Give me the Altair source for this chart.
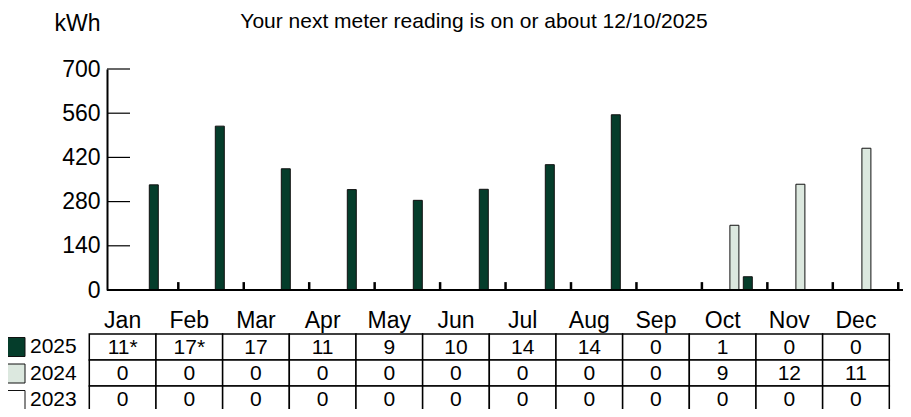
import altair as alt
import pandas as pd

months = ["Jan", "Feb", "Mar", "Apr", "May", "Jun", "Jul", "Aug", "Sep", "Oct", "Nov", "Dec"]
years = ["2025", "2024", "2023"]
kwh_2025 = [333, 519, 384, 318, 284, 319, 397, 555, 0, 42, 0, 0]
kwh_2024 = [0, 0, 0, 0, 0, 0, 0, 0, 0, 205, 335, 449]
kwh_2023 = [0, 0, 0, 0, 0, 0, 0, 0, 0, 0, 0, 0]
tbl_2025 = ["11*", "17*", "17", "11", "9", "10", "14", "14", "0", "1", "0", "0"]
tbl_2024 = ["0", "0", "0", "0", "0", "0", "0", "0", "0", "9", "12", "11"]
tbl_2023 = ["0", "0", "0", "0", "0", "0", "0", "0", "0", "0", "0", "0"]
y_ticks = [0, 140, 280, 420, 560, 700]
title_text = "Your next meter reading is on or about 12/10/2025"

DARK = "#053d2b"
LIGHT = "#dce8df"
FONT = "Liberation Sans, Arial, sans-serif"

bar_rows = []
for yr, vals in (("2025", kwh_2025), ("2024", kwh_2024), ("2023", kwh_2023)):
    for m, v in zip(months, vals):
        if v > 0:
            bar_rows.append({"month": m, "year": yr, "kwh": v})
bars_df = pd.DataFrame(bar_rows)

tbl_rows = []
for yr, vals in (("2025", tbl_2025), ("2024", tbl_2024), ("2023", tbl_2023)):
    for m, v in zip(months, vals):
        tbl_rows.append({"col": m, "row": yr, "txt": v})
tbl_df = pd.DataFrame(tbl_rows)
hdr_df = pd.DataFrame({"col": months, "row": ["hdr"] * 12, "txt": months})

x_plot = alt.Scale(domain=months, range=[5.5, 797.5], paddingInner=0, paddingOuter=0)
x_tick_scale = alt.Scale(domain=months, range=[5.85, 791.25], paddingInner=0, paddingOuter=0)
y_plot = alt.Scale(domain=[0, 700])
x_tbl = alt.Scale(domain=months, range=[-17.7, 782.3], paddingInner=0, paddingOuter=0)
y_tbl = alt.Scale(domain=["hdr"] + years, range=[239, 343], paddingInner=0, paddingOuter=0)

bars = alt.Chart(bars_df).mark_bar(width=9, stroke="#111111", strokeWidth=1).encode(
    x=alt.X("month:N", sort=months, scale=x_plot, axis=None),
    xOffset=alt.XOffset("year:N", scale=alt.Scale(domain=["2023", "2024", "2025"], range=[7.8, 48],
                                                  paddingInner=0, paddingOuter=0)),
    y=alt.Y("kwh:Q", scale=y_plot,
            axis=alt.Axis(values=y_ticks, ticks=False, grid=False, labelPadding=7,
                          labelFont=FONT, labelFontSize=23, labelColor="black",
                          domainColor="black", domainWidth=2,
                          title="kWh", titleAngle=0, titleAlign="right", titleBaseline="alphabetic",
                          titleX=-7, titleY=-39, titleFont=FONT, titleFontSize=23,
                          titleFontWeight="normal", titleColor="black")),
    color=alt.Color("year:N", scale=alt.Scale(domain=years, range=[DARK, LIGHT, "#ffffff"]),
                    legend=alt.Legend(orient="none", legendX=-102, legendY=267.5, title=None,
                                      symbolType="square", symbolSize=361, symbolStrokeColor="#111111",
                                      symbolStrokeWidth=1, symbolOpacity=1, labelFont=FONT,
                                      labelFontSize=21, labelColor="black", labelOffset=4,
                                      rowPadding=3.5, padding=0)),
)

y_tick_marks = alt.Chart(pd.DataFrame({"kwh": y_ticks})).mark_rule(strokeWidth=1.2, color="black").encode(
    y=alt.Y("kwh:Q", scale=y_plot),
    x=alt.value(0),
    x2=alt.value(23),
)

x_axis_line = alt.Chart(pd.DataFrame({"kwh": [0]})).mark_rule(strokeWidth=2, color="black").encode(
    y=alt.Y("kwh:Q", scale=y_plot),
    x=alt.value(0),
    x2=alt.value(796),
)

plot_layer = alt.layer(bars, y_tick_marks, x_axis_line)

x_ticks = alt.Chart(pd.DataFrame({"month": months, "kwh": [0] * 12, "top": [25] * 12})).mark_rule(
    strokeWidth=2.5, color="black").encode(
    x=alt.X("month:N", sort=months, scale=x_tick_scale, axis=None, bandPosition=1),
    y=alt.Y("kwh:Q", scale=y_plot, axis=None),
    y2="top:Q",
)

cells = alt.Chart(tbl_df).mark_rect(fill="white", stroke="black", strokeWidth=1.5).encode(
    x=alt.X("col:N", sort=months, scale=x_tbl, axis=None),
    y=alt.Y("row:N", scale=y_tbl, axis=None),
)
cell_text = alt.Chart(tbl_df).mark_text(font=FONT, fontSize=21, color="black",
                                        align="center", baseline="middle", dy=1).encode(
    x=alt.X("col:N", sort=months, scale=x_tbl, axis=None),
    y=alt.Y("row:N", scale=y_tbl, axis=None),
    text="txt:N",
)
hdr_text = alt.Chart(hdr_df).mark_text(font=FONT, fontSize=23, color="black",
                                       align="center", baseline="middle").encode(
    x=alt.X("col:N", sort=months, scale=x_tbl, axis=None),
    y=alt.Y("row:N", scale=y_tbl, axis=None),
    text="txt:N",
)
table_layer = alt.layer(cells, cell_text, hdr_text)

chart = alt.layer(plot_layer, x_ticks, table_layer).resolve_scale(
    x="independent", y="independent", color="shared"
).properties(
    width=796,
    height=221,
    padding={"left": 99, "top": 61, "right": 0, "bottom": 119},
    autosize=alt.AutoSizeParams(type="none"),
    view=alt.ViewBackground(stroke="transparent", strokeWidth=0, strokeOpacity=0),
    title=alt.TitleParams(title_text, font=FONT, fontSize=21, fontWeight="normal", color="black",
                          anchor="middle", frame="group", dx=-31, offset=0, baseline="alphabetic", dy=37),
).configure_view(strokeWidth=0, stroke="transparent", strokeOpacity=0).configure_axis(grid=False).configure(
    background="white")

chart.save("out.html", embed_options={"renderer": "svg", "actions": False})
